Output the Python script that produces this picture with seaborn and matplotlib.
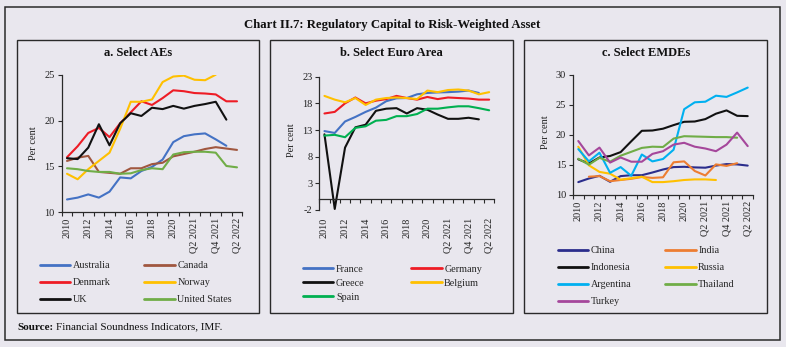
import numpy as np
import pandas as pd
import matplotlib
matplotlib.use("Agg")
import matplotlib.pyplot as plt
import seaborn as sns
from matplotlib.patches import Rectangle
from matplotlib.lines import Line2D

nan = np.nan

# ---------------- data ----------------
periods = ["2010", "2011", "2012", "2013", "2014", "2015", "2016", "2017", "2018",
           "2019", "2020", "Q1 2021", "Q2 2021", "Q3 2021", "Q4 2021", "Q1 2022", "Q2 2022"]
tick_labels = periods[::2]

# a. Select AEs
ae_names = ["Australia", "Canada", "Denmark", "Norway", "UK", "United States"]
australia = [11.4, 11.6, 11.95, 11.6, 12.25, 13.8, 13.7, 14.5, 14.95, 15.75, 17.65, 18.3, 18.5, 18.6, 17.95, 17.25, nan]
canada = [15.6, 15.95, 16.15, 14.4, 14.3, 14.2, 14.8, 14.8, 15.25, 15.4, 16.1, 16.35, 16.6, 16.9, 17.1, 16.95, 16.8]
denmark = [16.0, 17.2, 18.65, 19.2, 18.2, 19.7, 20.9, 22.1, 21.7, 22.45, 23.3, 23.2, 23.0, 22.95, 22.85, 22.1, 22.1]
norway = [14.2, 13.6, 14.7, 15.6, 16.5, 19.1, 22.05, 22.05, 22.3, 24.2, 24.8, 24.9, 24.45, 24.4, 25.0, nan, nan]
uk = [15.9, 15.8, 17.05, 19.6, 17.3, 19.7, 20.8, 20.5, 21.4, 21.25, 21.6, 21.3, 21.6, 21.8, 22.05, 20.1, nan]
united_states = [14.8, 14.7, 14.5, 14.4, 14.4, 14.2, 14.25, 14.6, 14.8, 14.7, 16.3, 16.55, 16.6, 16.6, 16.5, 15.05, 14.9]
ae_colors = ["#4472C4", "#A0573F", "#EE1C25", "#FFC000", "#111111", "#70AD47"]

# b. Select Euro Area
ea_names = ["France", "Germany", "Greece", "Belgium", "Spain"]
france = [12.8, 12.45, 14.6, 15.45, 16.4, 17.2, 18.4, 18.95, 19.0, 19.7, 19.95, 20.05, 20.1, 20.2, 20.4, 19.95, nan]
germany = [16.1, 16.4, 18.0, 19.1, 18.0, 18.5, 18.8, 19.4, 19.0, 18.7, 19.2, 18.8, 19.1, 19.0, 18.9, 18.7, 18.7]
greece = [12.2, -1.8, 9.7, 13.5, 14.0, 16.6, 17.0, 17.1, 16.1, 17.1, 16.8, 15.9, 15.1, 15.1, 15.3, 15.0, nan]
belgium = [19.4, 18.7, 18.2, 19.0, 17.7, 18.7, 19.0, 19.1, 19.0, 18.8, 20.4, 20.1, 20.5, 20.6, 20.4, 19.7, 20.1]
spain = [11.95, 12.1, 11.65, 13.4, 13.7, 14.75, 14.9, 15.6, 15.6, 16.0, 17.0, 17.0, 17.25, 17.45, 17.45, 17.1, 16.7]
ea_colors = ["#4472C4", "#EE1C25", "#111111", "#FFC000", "#00B050"]

# c. Select EMDEs
em_names = ["China", "India", "Indonesia", "Russia", "Argentina", "Thailand", "Turkey"]
china = [12.1, 12.7, 13.15, 12.15, 13.1, 13.25, 13.25, 13.7, 14.2, 14.6, 14.65, 14.55, 14.5, 14.85, 15.1, 15.05, 14.85]
india = [nan, 13.0, 13.1, 12.25, 12.45, 12.65, 12.95, 12.8, 12.9, 15.4, 15.55, 13.95, 13.2, 15.05, 14.8, 15.25, nan]
indonesia = [15.9, 15.2, 16.2, 16.45, 17.1, 18.9, 20.65, 20.7, 21.0, 21.6, 22.15, 22.2, 22.6, 23.5, 24.05, 23.15, 23.1]
russia = [18.0, 14.9, 13.8, 13.5, 12.5, 12.75, 13.0, 12.1, 12.1, 12.25, 12.45, 12.55, 12.55, 12.45, nan, nan, nan]
argentina = [17.6, 15.55, 17.0, 13.65, 14.6, 13.15, 16.7, 15.55, 15.95, 17.5, 24.25, 25.4, 25.5, 26.5, 26.3, 27.05, 27.85]
thailand = [16.0, 15.0, 16.15, 15.5, 16.5, 17.15, 17.8, 18.0, 17.95, 19.35, 19.75, 19.7, 19.65, 19.6, 19.6, 19.5, nan]
turkey = [18.95, 16.55, 17.85, 15.35, 16.2, 15.5, 15.5, 16.8, 17.25, 18.35, 18.65, 18.0, 17.7, 17.25, 18.35, 20.35, 18.1]
em_colors = ["#2B2D8C", "#ED7D31", "#111111", "#FFC000", "#00B0F0", "#70AD47", "#A5479B"]

# ---------------- style ----------------
sns.set_theme(style="ticks")
plt.rcParams["font.family"] = ["Liberation Serif", "DejaVu Serif"]
BG = "#E9E7EE"
EDGE = "#2A2A2A"

W, H = 786, 347
fig = plt.figure(figsize=(W / 100, H / 100), dpi=100, facecolor=BG)


def fx(px):
    return px / W


def fy(py):
    return 1 - py / H


def box(l, t, r, b, lw=1.0):
    fig.patches.append(Rectangle((fx(l), fy(b)), fx(r) - fx(l), fy(t) - fy(b),
                                 transform=fig.transFigure, fill=False,
                                 ec=EDGE, lw=lw, zorder=0))


box(5, 7, 780, 340, lw=1.1)
panels = [(17, 259), (270, 513), (524, 767)]
for l, r in panels:
    box(l, 40.5, r, 312.5, lw=1.0)

fig.text(fx(392), fy(25), "Chart II.7: Regulatory Capital to Risk-Weighted Asset",
         ha="center", va="center", fontsize=9.2, fontweight="bold", color="#111")
fig.text(fx(17), fy(327), "Source:", ha="left", va="center", fontsize=8,
         fontweight="bold", color="#111")
fig.text(fx(56), fy(327), "Financial Soundness Indicators, IMF.", ha="left",
         va="center", fontsize=8, color="#111")


def make_axes(l, t, r, b):
    return fig.add_axes([fx(l), fy(b), fx(r) - fx(l), fy(t) - fy(b)])


def draw(ax, names, data, colors, ylim, yticks, pad, xaxis_at=None):
    df = pd.concat([pd.DataFrame({"t": np.arange(len(periods)), "v": vals, "c": n})
                    for n, vals in zip(names, data)]).dropna()
    sns.lineplot(data=df, x="t", y="v", hue="c", hue_order=names,
                 palette=dict(zip(names, colors)), ax=ax, legend=False,
                 linewidth=1.5, estimator=None)
    ax.set_facecolor("none")
    for s in ["top", "right"]:
        ax.spines[s].set_visible(False)
    for s in ["left", "bottom"]:
        ax.spines[s].set_color(EDGE)
        ax.spines[s].set_linewidth(0.9)
    if xaxis_at is not None:
        ax.spines["bottom"].set_position(("data", xaxis_at))
    ax.set_xlim(-0.5, len(periods) - 0.5)
    ax.set_ylim(*ylim)
    ax.set_yticks(yticks)
    ax.set_yticklabels([str(v) for v in yticks])
    ax.set_xticks(np.arange(0, len(periods), 2))
    ax.set_xticklabels(tick_labels, rotation=90, ha="center", va="top")
    ax.set_xticks(np.arange(-0.5, len(periods), 1), minor=True)
    ax.tick_params(axis="x", which="major", length=0, pad=pad, labelsize=7.3,
                   colors="#222")
    ax.tick_params(axis="x", which="minor", length=3, width=0.8, color=EDGE)
    ax.tick_params(axis="y", which="major", length=3, width=0.8, pad=2,
                   labelsize=7.5, color=EDGE, labelcolor="#222")
    ax.set_xlabel("")
    ax.set_ylabel("")


def legend(names, colors, x, y, colsp, lsp):
    handles = [Line2D([], [], color=c, lw=2.0) for c in colors]
    # reorder so the two columns read row-wise like the reference
    order = list(range(0, len(names), 2)) + list(range(1, len(names), 2))
    fig.legend([handles[i] for i in order], [names[i] for i in order],
               loc="upper left",
               bbox_to_anchor=(fx(x), fy(y)), bbox_transform=fig.transFigure,
               ncol=2, frameon=False, fontsize=7.3, handlelength=3.0,
               handletextpad=0.25, columnspacing=colsp, labelspacing=lsp,
               borderpad=0, borderaxespad=0)


# panel a
ax_a = make_axes(61.7, 74.7, 242.3, 212.3)
draw(ax_a, ae_names, [australia, canada, denmark, norway, uk, united_states],
     ae_colors, (10, 25), [10, 15, 20, 25], pad=4)
fig.text(fx(138), fy(53), "a. Select AEs", ha="center", va="center",
         fontsize=9, fontweight="bold", color="#111")
fig.text(fx(33), fy(143), "Per cent", rotation=90, ha="center", va="center",
         fontsize=7.5, color="#222")
legend(ae_names, ae_colors, 40, 261, 3.3, 0.78)

# panel b
ax_b = make_axes(319.3, 76.7, 494.3, 210)
draw(ax_b, ea_names, [france, germany, greece, belgium, spain],
     ea_colors, (-2, 23), [-2, 3, 8, 13, 18, 23], pad=13, xaxis_at=0)
fig.text(fx(391.5), fy(53), "b. Select Euro Area", ha="center", va="center",
         fontsize=9, fontweight="bold", color="#111")
fig.text(fx(291), fy(140), "Per cent", rotation=90, ha="center", va="center",
         fontsize=7.5, color="#222")
legend(ea_names, ea_colors, 303, 264.5, 4.6, 0.5)

# panel c
ax_c = make_axes(573, 74.7, 753, 194.7)
draw(ax_c, em_names, [china, india, indonesia, russia, argentina, thailand, turkey],
     em_colors, (10, 30), [10, 15, 20, 25, 30], pad=4)
fig.text(fx(646), fy(53), "c. Select EMDEs", ha="center", va="center",
         fontsize=9, fontweight="bold", color="#111")
fig.text(fx(545.7), fy(132), "Per cent", rotation=90, ha="center", va="center",
         fontsize=7.5, color="#222")
legend(em_names, em_colors, 558, 246, 3.3, 0.78)

fig.savefig("out.png", dpi=100, facecolor=BG)
